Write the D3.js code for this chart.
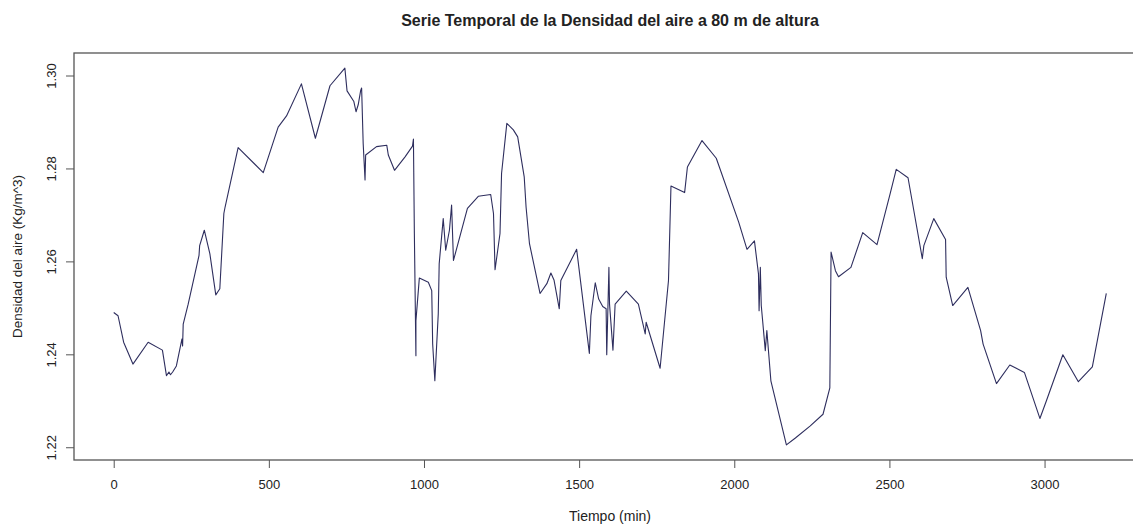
<!DOCTYPE html>
<html>
<head>
<meta charset="utf-8">
<script src="https://cdn.jsdelivr.net/npm/d3@7"></script>
<style>
  body { margin: 0; background: #fff; }
  svg text { font-family: "Liberation Sans", Arial, sans-serif; fill: #222; }
</style>
</head>
<body>
<div id="chart"></div>
<script>
// tiempo (min)
var tiempo = [0, 14, 32, 62, 111, 157, 170, 178, 183, 190, 202, 220, 222, 224, 240, 275, 277, 292, 310, 329, 342, 355, 359,
  401, 482, 530, 557, 605, 650, 697, 745, 752, 774, 781, 788, 796, 799, 804, 810, 812, 847, 880, 885, 905,
  939, 963, 966, 969, 974, 974, 985, 1014, 1025, 1028, 1035, 1046, 1049, 1062, 1070, 1082, 1089, 1095,
  1140, 1175, 1215, 1224, 1229, 1245, 1250, 1267, 1288, 1302, 1323, 1329, 1340, 1374, 1396, 1409, 1419,
  1436, 1441, 1492, 1533, 1538, 1552, 1563, 1576, 1587, 1589, 1596, 1598, 1609, 1616, 1652, 1691, 1713,
  1716, 1761, 1788, 1796, 1840, 1849, 1896, 1942, 2014, 2041, 2065, 2078, 2080, 2084, 2087, 2100, 2105,
  2118, 2168, 2197, 2245, 2286, 2308, 2312, 2326, 2336, 2376, 2414, 2460, 2501, 2522, 2560, 2606, 2611,
  2643, 2681, 2683, 2704, 2753, 2794, 2802, 2845, 2888, 2935, 2985, 3006, 3059, 3109, 3154, 3199];

// densidad del aire (Kg/m^3)
var densidad = [1.2490, 1.2483, 1.2426, 1.2379, 1.2426, 1.2409, 1.2354, 1.2362, 1.2356, 1.2362, 1.2375, 1.2433, 1.2418,
  1.2465, 1.2508, 1.2613, 1.2634, 1.2667, 1.2616, 1.2528, 1.2541, 1.2703, 1.2717,
  1.2845, 1.2791, 1.2889, 1.2913, 1.2982, 1.2865, 1.2978, 1.3016, 1.2967, 1.2944, 1.2922, 1.2937, 1.2968,
  1.2973, 1.2854, 1.2775, 1.2829, 1.2847, 1.2850, 1.2829, 1.2796,
  1.2825, 1.2848, 1.2863, 1.2660, 1.2397, 1.2472, 1.2564, 1.2555, 1.2537, 1.2422, 1.2343, 1.2487, 1.2595,
  1.2692, 1.2624, 1.2667, 1.2721, 1.2602,
  1.2714, 1.2740, 1.2744, 1.2703, 1.2582, 1.2660, 1.2789, 1.2897, 1.2883, 1.2868, 1.2782, 1.2717, 1.2638,
  1.2531, 1.2552, 1.2575, 1.2560, 1.2498, 1.2559, 1.2626, 1.2402, 1.2483, 1.2554, 1.2519, 1.2503, 1.2498,
  1.2399, 1.2587, 1.2508, 1.2409, 1.2508, 1.2536, 1.2508, 1.2444,
  1.2469, 1.2370, 1.2559, 1.2762, 1.2748, 1.2803, 1.2860, 1.2822, 1.2685, 1.2626, 1.2644, 1.2573, 1.2494,
  1.2587, 1.2505, 1.2408, 1.2451,
  1.2343, 1.2205, 1.2220, 1.2246, 1.2271, 1.2328, 1.2620, 1.2580, 1.2567, 1.2587, 1.2662, 1.2636, 1.2742,
  1.2798, 1.2780, 1.2606, 1.2634,
  1.2692, 1.2647, 1.2566, 1.2505, 1.2544, 1.2451, 1.2422, 1.2337, 1.2377, 1.2361, 1.2262, 1.2300, 1.2399,
  1.2341, 1.2373, 1.2531];

var xTicks = [0, 500, 1000, 1500, 2000, 2500, 3000];
var yTicks = [1.22, 1.24, 1.26, 1.28, 1.30];

var titulo = "Serie Temporal de la Densidad del aire a 80 m de altura";
var xLabel = "Tiempo (min)";
var yLabel = "Densidad del aire (Kg/m^3)";

var width = 1133, height = 524;
var margin = {top: 53, right: -13, bottom: 64, left: 74};
var innerW = width - margin.left - margin.right,
    innerH = height - margin.top - margin.bottom;

var svg = d3.select("#chart").append("svg")
    .attr("width", width)
    .attr("height", height);

// R style 4% padding on each side
var xExt = d3.extent(tiempo), yExt = d3.extent(densidad);
var xPad = (xExt[1] - xExt[0]) * 0.04, yPad = (yExt[1] - yExt[0]) * 0.04;

var x = d3.scaleLinear()
    .domain([xExt[0] - xPad, xExt[1] + xPad])
    .range([0, innerW]);

var y = d3.scaleLinear()
    .domain([yExt[0] - yPad, yExt[1] + yPad])
    .range([innerH, 0]);

var g = svg.append("g")
    .attr("transform", "translate(" + margin.left + "," + margin.top + ")");

// the line
var line = d3.line()
    .x(function(d, i){ return x(tiempo[i]); })
    .y(function(d){ return y(d); });

g.append("path")
    .datum(densidad)
    .attr("fill", "none")
    .attr("stroke", "#2e2e5e")
    .attr("stroke-width", 1.1)
    .attr("stroke-linejoin", "round")
    .attr("d", line);

// box
g.append("rect")
    .attr("x", 0)
    .attr("y", 0)
    .attr("width", innerW)
    .attr("height", innerH)
    .attr("fill", "none")
    .attr("stroke", "#555")
    .attr("stroke-width", 1.3);

// x axis
var xAxis = g.append("g")
    .attr("transform", "translate(0," + innerH + ")")
    .call(d3.axisBottom(x).tickValues(xTicks).tickSize(8).tickPadding(12).tickFormat(d3.format("d")));
xAxis.select(".domain").remove();
xAxis.selectAll("line").attr("stroke", "#555");
xAxis.selectAll("text").attr("font-size", 13).attr("fill", "#222");

// y axis, labels turned like R
var yAxis = g.append("g")
    .call(d3.axisLeft(y).tickValues(yTicks).tickSize(8).tickFormat(d3.format(".2f")));
yAxis.select(".domain").remove();
yAxis.selectAll("line").attr("stroke", "#555");
yAxis.selectAll("text")
    .attr("font-size", 13)
    .attr("fill", "#222")
    .attr("x", 0).attr("dy", 0)
    .attr("text-anchor", "middle")
    .attr("transform", "translate(-18,0) rotate(-90)");

// titles
svg.append("text")
    .attr("x", margin.left + innerW / 2)
    .attr("y", 26)
    .attr("text-anchor", "middle")
    .attr("font-size", 16)
    .attr("font-weight", "bold")
    .text(titulo);

svg.append("text")
    .attr("x", margin.left + innerW / 2)
    .attr("y", 521)
    .attr("text-anchor", "middle")
    .attr("font-size", 14)
    .text(xLabel);

svg.append("text")
    .attr("transform", "translate(22," + (margin.top + innerH / 2) + ") rotate(-90)")
    .attr("text-anchor", "middle")
    .attr("font-size", 13.5)
    .text(yLabel);
</script>
</body>
</html>
